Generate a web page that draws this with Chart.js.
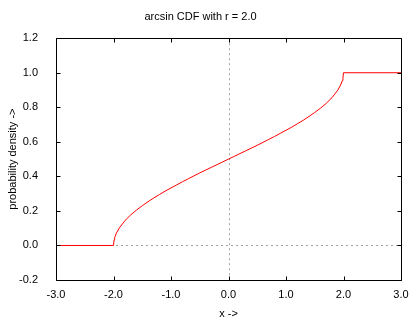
<!DOCTYPE html>
<html>
<head>
<meta charset="utf-8">
<script src="https://cdn.jsdelivr.net/npm/chart.js@4"></script>
<style>
  html, body { margin: 0; padding: 0; background: #fff; }
  #wrap { width: 420px; height: 320px; }
</style>
</head>
<body>
<div id="wrap"><canvas id="cdfChart"></canvas></div>
<script>
// Values
const xValues = [-3, -2, -1.99, -1.98, -1.95, -1.9, -1.8, -1.7, -1.6, -1.5, -1.4, -1.3, -1.2, -1.1, -1.0,
  -0.9, -0.8, -0.7, -0.6, -0.5, -0.4, -0.3, -0.2, -0.1, 0,
  0.1, 0.2, 0.3, 0.4, 0.5, 0.6, 0.7, 0.8, 0.9, 1.0,
  1.1, 1.2, 1.3, 1.4, 1.5, 1.6, 1.7, 1.8, 1.9, 1.95, 1.98, 1.99, 2, 3];
const cdfValues = [0, 0, 0.032, 0.045, 0.071, 0.101, 0.144, 0.177, 0.205, 0.230, 0.253, 0.275, 0.295, 0.315, 0.333,
  0.351, 0.369, 0.386, 0.403, 0.420, 0.436, 0.452, 0.468, 0.484, 0.5,
  0.516, 0.532, 0.548, 0.564, 0.580, 0.597, 0.614, 0.631, 0.649, 0.667,
  0.685, 0.705, 0.725, 0.747, 0.770, 0.795, 0.823, 0.856, 0.899, 0.929, 0.955, 0.968, 1, 1];
const xTicks = [-3, -2, -1, 0, 1, 2, 3];
const yTicks = [-0.2, 0, 0.2, 0.4, 0.6, 0.8, 1.0, 1.2];

const points = xValues.map((x, i) => ({ x: x, y: cdfValues[i] }));
const fontFamily = '"Liberation Sans", Arial, sans-serif';

// gnuplot-like frame: zero axes (dotted), border and inward ticks on all sides
const gnuFrame = {
    id: 'gnuFrame',
    beforeDatasetsDraw(chart) {
        const { ctx, chartArea: a, scales } = chart;
        const x0 = Math.round(scales.x.getPixelForValue(0)) + 0.5;
        const y0 = Math.round(scales.y.getPixelForValue(0)) + 0.5;
        ctx.save();
        ctx.strokeStyle = '#a0a0a0';
        ctx.lineWidth = 1;
        ctx.setLineDash([2, 3]);
        ctx.beginPath();
        ctx.moveTo(a.left, y0); ctx.lineTo(a.right, y0);
        ctx.moveTo(x0, a.top); ctx.lineTo(x0, a.bottom);
        ctx.stroke();
        ctx.restore();
    },
    afterDraw(chart) {
        const { ctx, chartArea: a, scales } = chart;
        const L = Math.round(a.left) + 0.5, R = Math.round(a.right) + 0.5;
        const T = Math.round(a.top) + 0.5, B = Math.round(a.bottom) + 0.5;
        const len = 4;
        ctx.save();
        ctx.strokeStyle = '#000';
        ctx.lineWidth = 1;
        ctx.beginPath();
        ctx.rect(L, T, R - L, B - T);
        xTicks.forEach(v => {
            const px = Math.round(scales.x.getPixelForValue(v)) + 0.5;
            ctx.moveTo(px, B); ctx.lineTo(px, B - len);
            ctx.moveTo(px, T); ctx.lineTo(px, T + len);
        });
        yTicks.forEach(v => {
            const py = Math.round(scales.y.getPixelForValue(v)) + 0.5;
            ctx.moveTo(L, py); ctx.lineTo(L + len, py);
            ctx.moveTo(R, py); ctx.lineTo(R - len, py);
        });
        ctx.stroke();
        ctx.restore();
    }
};

const fmt = v => (Math.abs(v) < 1e-9 ? 0 : v).toFixed(1);

new Chart(document.getElementById('cdfChart'), {
    type: 'scatter',
    data: {
        datasets: [{
            label: 'arcsin CDF',
            data: points,
            showLine: true,
            borderColor: '#ff0000',
            borderWidth: 1,
            pointRadius: 0,
            tension: 0
        }]
    },
    options: {
        responsive: true,
        maintainAspectRatio: false,
        animation: false,
        layout: { padding: { left: 0, right: 19, top: 0, bottom: 0 } },
        plugins: {
            legend: { display: false },
            tooltip: { enabled: false },
            title: {
                display: true,
                text: 'arcsin CDF with r = 2.0',
                color: '#000',
                font: { family: fontFamily, size: 11, weight: 'normal' },
                padding: { top: 10, bottom: 15 }
            }
        },
        scales: {
            x: {
                type: 'linear',
                min: -3,
                max: 3,
                afterFit: s => { s.height = 40; },
                afterBuildTicks: s => { s.ticks = xTicks.map(v => ({ value: v })); },
                ticks: {
                    color: '#000',
                    font: { family: fontFamily, size: 11 },
                    padding: 0,
                    maxRotation: 0,
                    callback: fmt
                },
                grid: { display: false },
                border: { display: false },
                title: {
                    display: true,
                    text: 'x ->',
                    color: '#000',
                    font: { family: fontFamily, size: 11 },
                    padding: { top: 0, bottom: -1 }
                }
            },
            y: {
                type: 'linear',
                min: -0.2,
                max: 1.2,
                afterFit: s => { s.width = 56; },
                afterBuildTicks: s => { s.ticks = yTicks.map(v => ({ value: v })); },
                ticks: {
                    color: '#000',
                    font: { family: fontFamily, size: 11 },
                    padding: 10,
                    callback: fmt
                },
                grid: { display: false },
                border: { display: false },
                title: {
                    display: true,
                    text: 'probability density ->',
                    color: '#000',
                    font: { family: fontFamily, size: 11 },
                    padding: { top: 6, bottom: 0 }
                }
            }
        }
    },
    plugins: [gnuFrame]
});
</script>
</body>
</html>
